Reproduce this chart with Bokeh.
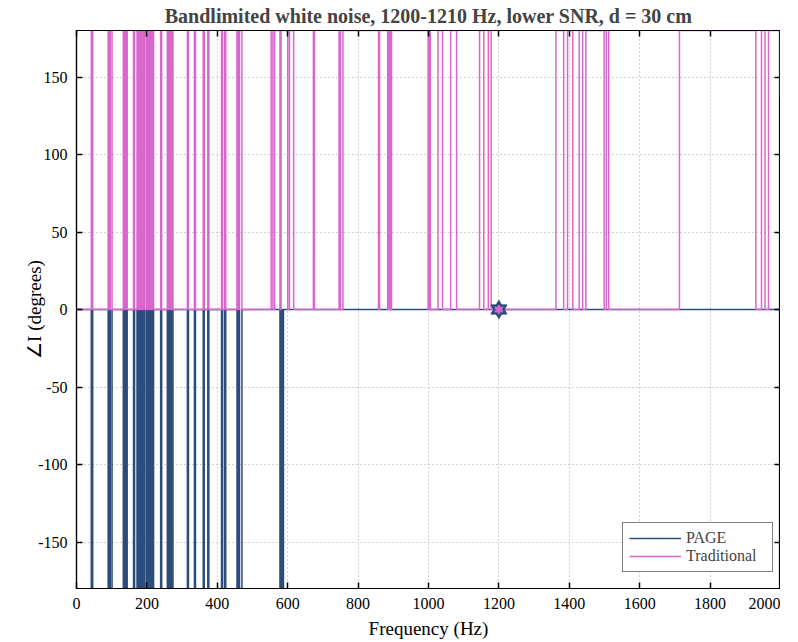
from bokeh.plotting import figure
from bokeh.models import LinearAxis, Range1d, FixedTicker, Legend, LegendItem, PrintfTickFormatter
from bokeh.embed import file_html
from bokeh.resources import INLINE

# ---------------- data ----------------
freq_min, freq_max = 0, 2000
phase_min, phase_max = -180, 180

x_ticks = [0, 200, 400, 600, 800, 1000, 1200, 1400, 1600, 1800, 2000]
y_ticks = [-150, -100, -50, 0, 50, 100, 150]

# PAGE: frequency bands (Hz) where the phase is -180 deg (0 deg elsewhere)
page_band_start = [42, 90, 96, 133, 140, 162, 172, 178, 184, 190, 198, 203, 210, 216,
                   239, 258, 264, 270, 315, 335, 360, 373, 412, 421, 456, 463, 578, 585]
page_band_end = [46, 93, 101, 137, 144, 165, 175, 181, 187, 193, 201, 207, 213, 219,
                 242, 261, 267, 274, 318, 338, 363, 376, 415, 424, 460, 470, 581, 588]
page_band_phase = -180

# Traditional: frequency bands (Hz) where the phase is +180 deg (0 deg elsewhere)
trad_band_start = [42, 90, 96, 133, 140, 162, 172, 178, 184, 190, 198, 203, 210, 216,
                   239, 258, 264, 270, 315, 335, 360, 373, 412, 421, 456, 463,
                   553, 563, 581, 605, 673, 746, 757, 861, 888, 895, 1002, 1027, 1063,
                   1145, 1170, 1362, 1395, 1428, 1447, 1505, 1713, 1946, 1966]
trad_band_end = [46, 93, 101, 137, 144, 165, 175, 181, 187, 193, 201, 207, 213, 219,
                 242, 261, 267, 274, 318, 338, 363, 376, 415, 424, 460, 470,
                 558, 578, 600, 617, 676, 750, 858, 884, 891, 999, 1005, 1040, 1080,
                 1157, 1178, 1384, 1410, 1438, 1499, 1512, 1930, 1956, 2000]
trad_band_phase = 180
trad_last_phase = 137   # value of the final sample at 2000 Hz

# estimated source frequency marker
est_freq = [1200]
est_phase = [0]

series_names = ["PAGE", "Traditional"]
title_text = "Bandlimited white noise, 1200-1210 Hz, lower SNR, d = 30 cm"

# ---------------- build step traces ----------------
def step_trace(starts, ends, level, last=None):
    xs, ys = [freq_min], [0]
    for s, e in zip(starts, ends):
        xs += [s, s, e]
        ys += [0, level, level]
        if e < freq_max:
            xs.append(e)
            ys.append(0)
    if xs[-1] < freq_max:
        xs.append(freq_max)
        ys.append(0)
    if last is not None:
        xs.append(freq_max)
        ys.append(last)
    return xs, ys

page_x, page_y = step_trace(page_band_start, page_band_end, page_band_phase)
trad_x, trad_y = step_trace(trad_band_start, trad_band_end, trad_band_phase, trad_last_phase)

PAGE_COLOR = "#2C4C7C"
TRAD_COLOR = "#D966CC"
FONT = "Liberation Serif"

p = figure(frame_width=704, frame_height=558, output_backend="svg", toolbar_location=None,
           x_range=Range1d(freq_min, freq_max), y_range=Range1d(phase_min, phase_max),
           min_border_left=76, min_border_right=0, min_border_top=30, min_border_bottom=46,
           background_fill_color="white", border_fill_color="white")

p.title.text = title_text
p.title.align = "center"
p.title.vertical_align = "top"
p.title.text_font = FONT
p.title.text_font_size = "20px"
p.title.text_font_style = "bold"
p.title.offset = 0
p.title.standoff = 4

p.outline_line_color = "black"
p.outline_line_width = 1.2

for ax in (p.xaxis[0], p.yaxis[0]):
    ax.major_label_text_font = FONT
    ax.major_label_text_font_size = "16px"
    ax.major_label_text_color = "black"
    ax.axis_label_text_font = FONT
    ax.axis_label_text_font_size = "19px"
    ax.axis_label_text_font_style = "normal"
    ax.axis_label_text_color = "black"
    ax.major_tick_in = 6
    ax.major_tick_out = 0
    ax.minor_tick_in = 0
    ax.minor_tick_out = 0
    ax.major_tick_line_color = "black"
    ax.major_tick_line_width = 1.5
    ax.axis_line_color = "black"
    ax.axis_line_width = 1.2
    ax.formatter = PrintfTickFormatter(format="%d")

p.xaxis[0].ticker = FixedTicker(ticks=x_ticks)
p.yaxis[0].ticker = FixedTicker(ticks=y_ticks)
p.xaxis[0].axis_label = "Frequency (Hz)"
p.yaxis[0].axis_label = "\u2220I (degrees)"
p.xaxis[0].major_label_standoff = 9
p.xaxis[0].axis_label_standoff = 6
p.yaxis[0].major_label_standoff = 9
p.yaxis[0].axis_label_standoff = -10

# box ticks on top and right (no labels)
top = LinearAxis(ticker=FixedTicker(ticks=x_ticks),
                 major_label_overrides={t: "" for t in x_ticks}, major_label_standoff=0,
                 major_tick_in=6, major_tick_out=0, minor_tick_in=0, minor_tick_out=0,
                 major_tick_line_width=1.5, axis_line_color="black", axis_line_width=1.2)
right = LinearAxis(ticker=FixedTicker(ticks=y_ticks),
                   major_label_overrides={t: "" for t in y_ticks}, major_label_standoff=0,
                   major_tick_in=6, major_tick_out=0, minor_tick_in=0, minor_tick_out=0,
                   major_tick_line_width=1.5, axis_line_color="black", axis_line_width=1.2)
p.add_layout(top, "above")
p.add_layout(right, "right")

p.xgrid.ticker = FixedTicker(ticks=x_ticks)
p.ygrid.ticker = FixedTicker(ticks=y_ticks)
for g in (p.xgrid[0], p.ygrid[0]):
    g.grid_line_color = "#9a9a9a"
    g.grid_line_dash = "1 3"
    g.grid_line_width = 1
    g.grid_line_alpha = 0.9

r_page = p.line(page_x, page_y, line_color=PAGE_COLOR, line_width=1.5)
r_trad = p.line(trad_x, trad_y, line_color=TRAD_COLOR, line_width=1.5)

# hexagram marker at the estimated frequency
p.scatter(est_freq, est_phase, marker="triangle", size=16, fill_color=PAGE_COLOR, line_color=PAGE_COLOR)
p.scatter(est_freq, est_phase, marker="inverted_triangle", size=16, fill_color=PAGE_COLOR, line_color=PAGE_COLOR)
p.scatter(est_freq, est_phase, marker="triangle", size=8, fill_color=TRAD_COLOR, line_color=TRAD_COLOR)
p.scatter(est_freq, est_phase, marker="inverted_triangle", size=8, fill_color=TRAD_COLOR, line_color=TRAD_COLOR)

legend = Legend(items=[LegendItem(label=series_names[0], renderers=[r_page]),
                       LegendItem(label=series_names[1], renderers=[r_trad])],
                location=(546, 16), orientation="vertical",
                label_text_font=FONT, label_text_font_size="16px",
                glyph_width=52, glyph_height=18, label_height=18, label_width=80,
                label_standoff=5, padding=6, spacing=0, margin=0,
                border_line_color="black", border_line_width=1.2,
                background_fill_color="white", background_fill_alpha=1)
p.add_layout(legend, "center")

open("out.html", "w").write(file_html(p, INLINE))
